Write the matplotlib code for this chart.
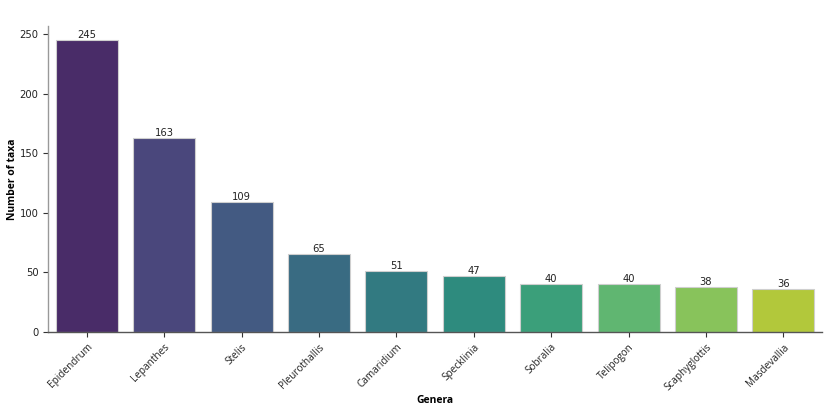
import matplotlib
matplotlib.use("Agg")
import matplotlib.pyplot as plt
import seaborn as sns
import pandas as pd

genera = ["Epidendrum", "Lepanthes", "Stelis", "Pleurothallis", "Camaridium",
          "Specklinia", "Sobralia", "Telipogon", "Scaphyglottis", "Masdevallia"]
counts = [245, 163, 109, 65, 51, 47, 40, 40, 38, 36]

df = pd.DataFrame({"Genera": genera, "Number of taxa": counts})

fig, ax = plt.subplots(figsize=(8.32, 4.16), dpi=100)
sns.barplot(data=df, x="Genera", y="Number of taxa", hue="Genera", palette="viridis",
            legend=False, ax=ax, edgecolor="#cfcfcf", linewidth=0.8, saturation=0.75)

for c in ax.containers:
    ax.bar_label(c, fontsize=7.2, color="#222222", padding=0)

ax.set_xlabel("Genera", fontweight="bold", fontsize=7.5, family="Open Sans")
ax.set_ylabel("Number of taxa", fontweight="bold", fontsize=7.5, family="Open Sans")
ax.xaxis.set_label_coords(0.5, -0.205)
ax.yaxis.set_label_coords(-0.039, 0.5)
ax.tick_params(axis="y", labelsize=7.2, length=3.5, color="#333333", labelcolor="#222222")
ax.tick_params(axis="x", labelsize=7.2, length=3.5, color="#333333", labelcolor="#222222")
for lbl in ax.get_xticklabels():
    lbl.set_rotation(45)
    lbl.set_ha("right")
    lbl.set_rotation_mode("anchor")
    lbl.set_family("Open Sans")

ax.spines["top"].set_visible(False)
ax.spines["right"].set_visible(False)
ax.spines["left"].set_color("#999999")
ax.spines["bottom"].set_color("#555555")
for s in ["left", "bottom"]:
    ax.spines[s].set_linewidth(1.0)
ax.set_ylim(0, 256.7)
ax.set_xlim(-0.5, 9.5)

fig.subplots_adjust(left=0.058, right=0.988, top=0.9375, bottom=0.202)
fig.savefig("out.png", dpi=100)
